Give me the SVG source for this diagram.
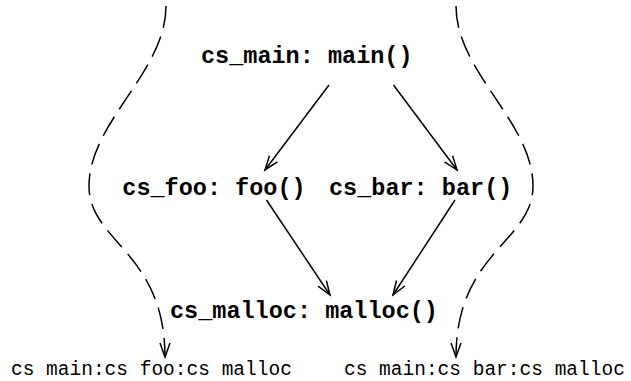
<svg xmlns="http://www.w3.org/2000/svg" width="631" height="381" viewBox="0 0 631 381">
  <style>
    .node { font-family: "Liberation Mono", "Courier New", monospace; font-weight: bold; font-size: 23.5px; fill: #000; }
    .lbl { font-family: "Liberation Mono", "Courier New", monospace; font-size: 19.5px; fill: #000; }
    .edge { stroke: #000; stroke-width: 1.5; fill: none; }
    .dash { stroke: #000; stroke-width: 1.5; fill: none; stroke-dasharray: 22 9; }
  </style>
  <defs>
    <marker id="vee" markerUnits="userSpaceOnUse" markerWidth="20" markerHeight="14" viewBox="-16 -7 18 14" refX="0" refY="0" orient="auto">
      <path d="M-14,-5 L0,0 L-14,5" fill="none" stroke="#000" stroke-width="1.5"/>
    </marker>
  </defs>
  <rect width="631" height="381" fill="#fff"/>
  <g id="connectors">
    <line class="edge" x1="329" y1="85" x2="265" y2="170" marker-end="url(#vee)"/>
    <line class="edge" x1="393.5" y1="85" x2="457" y2="170" marker-end="url(#vee)"/>
    <line class="edge" x1="266.5" y1="200" x2="330" y2="295" marker-end="url(#vee)"/>
    <line class="edge" x1="455" y1="200" x2="393" y2="295" marker-end="url(#vee)"/>
    <path class="dash" d="M166,6 C166,72 89,122 89,186 C89,242 165,252 165,357" marker-end="url(#vee)"/>
    <path class="dash" d="M456,6 C456,72 533,122 533,186 C533,242 456,252 456,357" marker-end="url(#vee)"/>
  </g>
  <g id="cs_main"><text class="node" x="201" y="63">cs_main: main()</text></g>
  <g id="cs_foo"><text class="node" x="122.3" y="195">cs_foo: foo()</text></g>
  <g id="cs_bar"><text class="node" x="329" y="195">cs_bar: bar()</text></g>
  <g id="cs_malloc"><text class="node" x="170" y="317.5">cs_malloc: malloc()</text></g>
  <g id="label_foo"><text class="lbl" x="11" y="375">cs main:cs foo:cs malloc</text></g>
  <g id="label_bar"><text class="lbl" x="344" y="375">cs main:cs bar:cs malloc</text></g>
</svg>
